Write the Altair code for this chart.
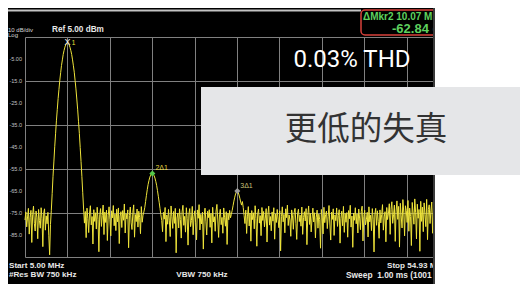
import altair as alt
import pandas as pd

# ---- sweep settings ----
start_mhz = 5.00
stop_mhz = 54.93
step_mhz = 0.1
ref_dbm = 5.0
bottom_dbm = -95.0

# ---- trace levels (dBm), 0.1 MHz apart ----
noise_a = [  # 5.0 - 8.0 MHz
    -78.2, -74.5, -81.3, -76.8, -72.9, -84.6, -77.1, -73.8, -88.4, -75.6,
    -71.9, -79.8, -83.2, -74.1, -76.9, -86.7, -73.4, -78.5, -81.9, -72.6,
    -77.4, -90.3, -75.2, -73.1, -82.8, -76.3, -79.9, -74.7, -85.1, -94.0,
    -80.2]
fund = [  # 8.1 - 11.9 MHz, fundamental
    -73.8, -66.1, -58.3, -51.8, -44.9, -39.0, -33.1, -28.0, -23.0, -18.8,
    -14.6, -11.2, -7.9, -5.4, -2.9, -1.1, 0.4, 1.5, 2.1, 2.3,
    2.1, 1.4, 0.3, -1.2, -3.0, -5.4, -8.1, -11.0, -14.8, -18.6,
    -23.2, -27.8, -33.3, -38.8, -45.2, -51.6, -58.5, -65.8, -73.2]
noise_b = [  # 12.0 - 18.9 MHz
    -79.6, -74.3, -86.2, -72.8, -77.5, -83.9, -75.1, -71.7, -80.4, -76.6,
    -89.1, -73.5, -78.8, -74.9, -82.3, -72.4, -77.9, -92.6, -75.8, -73.0,
    -81.1, -76.2, -71.4, -84.8, -74.6, -79.3, -73.7, -87.5, -76.0, -72.2,
    -78.1, -85.4, -74.0, -77.2, -71.6, -80.8, -75.5, -83.0, -73.3, -79.0,
    -72.7, -88.9, -76.4, -74.4, -81.6, -73.9, -78.3, -70.9, -84.1, -75.3,
    -77.7, -73.6, -90.8, -76.1, -72.3, -79.5, -82.5, -74.8, -71.3, -86.0,
    -75.7, -78.9, -73.2, -81.4, -74.2, -77.0, -84.4, -72.1, -79.2, -76.0]
h2 = [  # 19.0 - 21.1 MHz, 2nd harmonic
    -74.5, -72.6, -69.8, -67.0, -64.3, -62.0, -60.2, -58.7, -57.8, -57.2,
    -57.0, -57.3, -58.0, -59.1, -60.6, -62.4, -64.8, -67.4, -70.1, -73.0,
    -75.8, -78.4]
noise_c = [  # 21.2 - 29.2 MHz
    -83.5, -74.7, -77.8, -72.5, -88.0, -75.9, -80.1, -73.4, -78.6, -85.7,
    -71.8, -76.7, -82.0, -74.3, -79.7, -72.9, -93.1, -77.3, -75.0, -81.8,
    -73.1, -78.0, -86.4, -74.5, -71.5, -80.6, -76.5, -83.7, -72.6, -77.6, -89.6,
    -75.4, -73.0, -81.2, -78.4, -72.0, -84.9, -76.8, -74.0, -79.4, -87.2,
    -73.6, -77.4, -71.2, -82.7, -75.6, -80.0, -74.6, -91.4, -76.3, -72.8,
    -78.7, -85.0, -74.2, -77.1, -73.5, -81.5, -75.2, -88.6, -72.4, -79.1,
    -76.7, -83.3, -74.1, -71.1, -78.2,
    -86.1, -75.7, -73.3, -80.3, -77.0, -84.2, -72.7, -76.9,
    -81.0, -74.4, -89.3, -75.1, -78.1, -73.8, -77.2]
h3 = [  # 29.3 - 30.8 MHz, 3rd harmonic
    -75.6, -73.8, -71.7, -69.6, -67.8, -66.3, -65.4, -65.0, -65.6, -66.8,
    -68.3, -70.0, -71.4, -69.8, -72.5, -76.1]
noise_d = [  # 30.9 - 54.9 MHz
    -79.8, -73.7, -84.3, -76.4, -72.1, -80.9, -75.0, -87.8, -73.9, -78.0,
    -74.9, -82.2, -71.7, -77.5, -90.1, -75.3, -73.2, -79.6, -76.2, -85.3,
    -72.5, -78.4, -74.3, -81.3, -77.3, -73.0, -88.2, -75.8, -71.9, -80.5,
    -76.6, -83.1, -74.5, -78.7, -72.6, -86.9, -75.4, -79.3, -73.4, -77.8,
    -81.7, -74.0, -92.2, -76.7, -72.2, -79.0, -75.6, -84.0, -73.1, -77.1,
    -71.4, -80.7, -75.9, -78.2, -85.6, -73.6, -76.3, -82.4, -74.7, -72.9,
    -79.7, -87.0, -75.3, -73.3, -78.9, -76.0, -81.0, -72.3, -84.7, -77.0,
    -74.4, -78.6, -73.0, -89.4, -76.1, -71.8, -80.2, -75.1, -83.6, -77.7,
    -72.8, -79.1, -74.9, -86.3, -76.9, -73.7, -81.9, -75.5, -78.0, -91.0,
    -73.4, -77.2, -84.5, -72.4, -79.4, -75.7, -74.1, -82.1, -76.5, -71.6,
    -80.0, -87.3, -74.6, -77.9, -73.1, -85.2, -75.9, -78.5, -72.7, -81.1,
    -76.2, -73.5, -88.7, -77.4, -74.2, -80.8, -72.0, -83.8, -75.2, -79.2,
    -74.8, -86.0, -73.9, -77.6, -71.5, -81.4, -76.4, -90.6, -75.0, -78.3,
    -72.6, -79.9, -75.4, -84.1, -73.2, -77.3, -82.6, -74.3, -71.9, -87.7,
    -76.7, -73.8, -80.4, -78.1, -74.7, -85.9, -72.2, -79.0, -76.0, -83.0,
    -73.0, -77.8, -92.7, -75.5, -72.9, -80.6, -74.0, -78.8, -86.5, -73.6,
    -79.5, -75.7, -71.2, -82.8, -76.8, -74.4, -88.1, -72.5, -78.0, -75.2,
    -70.8, -84.7, -73.3, -69.9, -79.7, -75.8, -71.4, -87.9, -74.1, -69.5,
    -77.9, -72.0, -90.5, -70.6, -76.3, -81.8, -68.9, -74.6, -85.4, -71.7,
    -73.9, -79.3, -69.3, -83.3, -72.8, -76.6, -89.8, -70.2, -75.1, -80.1,
    -68.6, -74.9, -86.8, -71.0, -77.4, -73.4, -92.4, -69.7, -78.8, -72.3,
    -83.5, -70.4, -75.6, -81.2, -68.8, -87.1, -73.5, -71.3, -79.8, -74.0,
    -70.0, -84.2, -72.7, -77.1, -69.4, -88.3, -74.8, -71.8, -80.7, -73.1,
    -76.1, -82.9, -70.5, -75.3, -86.6, -72.1, -78.4, -74.5, -81.5, -73.7, -77.5]

trace_dbm = noise_a + fund + noise_b + h2 + noise_c + h3 + noise_d
trace_mhz = [round(start_mhz + step_mhz * i, 2) for i in range(len(trace_dbm))]

# ---- markers ----
marker_mhz = [20.0, 30.0]
marker_dbm = [-57.0, -65.0]
marker_text = ["2\u03941", "3\u03941"]
marker_color = ["#55c94a", "#9c9c9c"]
marker_label_color = ["#e8dc40", "#c9c17a"]
mk1_mhz = [10.0]
mk1_dbm = [2.3]

# ---- axis ticks / labels ----
x_grid = [round(start_mhz + k * (stop_mhz - start_mhz) / 10, 3) for k in range(11)]
y_grid = [5, -5, -15, -25, -35, -45, -55, -65, -75, -85, -95]
y_label_vals = [-5, -15, -25, -35, -45, -55, -65, -75, -85]
y_label_txt = ["-5.00", "-15.0", "-25.0", "-35.0", "-45.0", "-55.0", "-65.0", "-75.0", "-85.0"]

YELLOW = "#efe43a"
GRID = "#808080"
INST = "Liberation Sans"
WHITE_T = "#e8e8e8"

trace_df = pd.DataFrame({"f": trace_mhz, "db": trace_dbm})
xs = alt.Scale(domain=[start_mhz, stop_mhz], nice=False, zero=False)
ys = alt.Scale(domain=[bottom_dbm, ref_dbm], nice=False, zero=False)

trace = alt.Chart(trace_df).mark_line(color=YELLOW, strokeWidth=1).encode(
    x=alt.X("f:Q", scale=xs, axis=alt.Axis(values=x_grid, labels=False, ticks=False,
                                           domain=False, title=None, grid=True,
                                           gridColor=GRID, gridWidth=1)),
    y=alt.Y("db:Q", scale=ys, axis=alt.Axis(values=y_grid, labels=False, ticks=False,
                                            domain=False, title=None, grid=True,
                                            gridColor=GRID, gridWidth=1)),
)

ylab_df = pd.DataFrame({"db": y_label_vals, "t": y_label_txt})
ylabels = alt.Chart(ylab_df).mark_text(align="right", baseline="middle", fontSize=5.5,
                                       font=INST, color="#c4c4c4").encode(
    x=alt.value(-3), y=alt.Y("db:Q", scale=ys), text="t:N")

mk_df = pd.DataFrame({"f": marker_mhz, "db": marker_dbm, "t": marker_text,
                      "c": marker_color, "lc": marker_label_color})
mk_pts = alt.Chart(mk_df).mark_point(shape="diamond", filled=True, size=36, opacity=1).encode(
    x=alt.X("f:Q", scale=xs), y=alt.Y("db:Q", scale=ys),
    color=alt.Color("c:N", scale=None))
mk_lbl = alt.Chart(mk_df).mark_text(align="left", baseline="middle", fontSize=7,
                                    font=INST, dx=3, dy=-5).encode(
    x=alt.X("f:Q", scale=xs), y=alt.Y("db:Q", scale=ys), text="t:N",
    color=alt.Color("lc:N", scale=None))
mk1_df = pd.DataFrame({"f": mk1_mhz, "db": mk1_dbm})
mk1_x = alt.Chart(mk1_df).mark_text(text="X", fontSize=9, color="#f0f0f0", font=INST,
                                    baseline="middle", dy=-1).encode(
    x=alt.X("f:Q", scale=xs), y=alt.Y("db:Q", scale=ys))
mk1_n = alt.Chart(mk1_df).mark_text(text="1", fontSize=6.5, color=YELLOW, font=INST,
                                    baseline="middle", dx=6, dy=0).encode(
    x=alt.X("f:Q", scale=xs), y=alt.Y("db:Q", scale=ys))


def txt(s, x, y, size, color, align="left", weight="normal", font=INST):
    return alt.Chart(pd.DataFrame({"t": [s]})).mark_text(
        align=align, baseline="middle", fontSize=size, color=color,
        fontWeight=weight, font=font).encode(
        x=alt.value(x), y=alt.value(y), text="t:N")


def box(x1, x2, y1, y2, **kw):
    return alt.Chart(pd.DataFrame({"a": [0]})).mark_rect(**kw).encode(
        x=alt.value(x1), x2=alt.value(x2), y=alt.value(y1), y2=alt.value(y2))


top_line = alt.Chart(pd.DataFrame({"a": [0]})).mark_rule(color="#c4c4c4", strokeWidth=2).encode(
    x=alt.value(-18), x2=alt.value(336), y=alt.value(-26.5))
red_box = box(336, 420, -27, -2, fill="black", stroke="#d9413b", strokeWidth=1.5, cornerRadius=4)

white_cover = box(410, 495, -29, 247, fill="white")
edge = alt.Chart(pd.DataFrame({"a": [0]})).mark_rule(color="#3a3a3a", strokeWidth=2).encode(
    x=alt.value(409), y=alt.value(-29), y2=alt.value(247))
gray_box = box(176, 495, 50, 138, fill="#e5e6e8")

chart = alt.layer(
    trace, ylabels, mk_pts, mk_lbl, mk1_x, mk1_n,
    top_line,
    txt("10 dB/div", -17, -7.5, 6, "#d8d8d8"),
    txt("Log", -17, -2.5, 6, "#d8d8d8"),
    txt("Ref 5.00 dBm", 27, -7, 8.2, WHITE_T, weight="bold"),
    red_box,
    txt("\u0394Mkr2 10.07 MHz", 338, -20.5, 10, "#5ed15e", weight="bold"),
    txt("-62.84 dB", 367, -8.5, 13, "#5ed15e", weight="bold"),
    txt("0.03% THD", 327, 22.5, 24, "white", align="center", font="Roboto"),
    txt("Start 5.00 MHz", -16, 229, 8.1, WHITE_T, weight="bold"),
    txt("#Res BW 750 kHz", -16, 238, 8.1, WHITE_T, weight="bold"),
    txt("VBW 750 kHz", 177, 238, 8.1, WHITE_T, align="center", weight="bold"),
    txt("Stop 54.93 MHz", 362, 229, 8.1, WHITE_T, weight="bold"),
    txt("Sweep\u00a0\u00a01.00 ms (1001 pts)", 321, 238, 8.4, WHITE_T, weight="bold"),
    white_cover, edge, gray_box,
    txt("更低的失真", 341, 93, 32.5, "#333333", align="center", font="Noto Sans CJK SC"),
).properties(
    width=424, height=220,
    autosize=alt.AutoSizeParams(type="none"),
    padding={"left": 17, "top": 29, "right": 71, "bottom": 27},
).configure(background="black").configure_view(stroke="transparent")

chart.save("out.html", embed_options={"renderer": "svg", "actions": False})
